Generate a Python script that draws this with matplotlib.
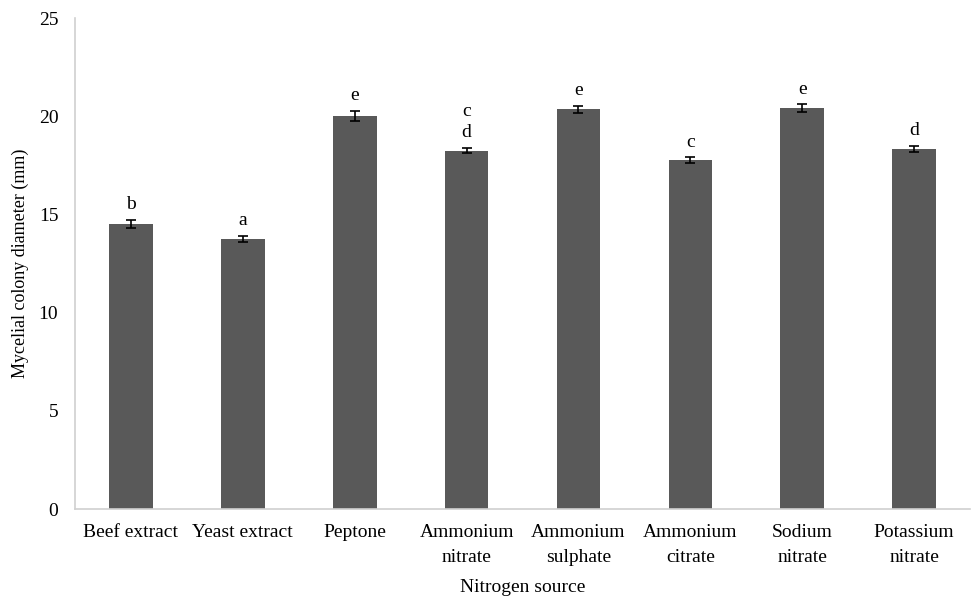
import matplotlib.pyplot as plt
import numpy as np

sources = ['Beef extract', 'Yeast extract', 'Peptone', 'Ammonium\nnitrate',
           'Ammonium\nsulphate', 'Ammonium\ncitrate', 'Sodium\nnitrate', 'Potassium\nnitrate']
diameter = [14.5, 13.75, 20.0, 18.25, 20.35, 17.75, 20.4, 18.35]
errors = [0.2, 0.15, 0.25, 0.12, 0.18, 0.15, 0.2, 0.15]
letters = ['b', 'a', 'e', 'c\nd', 'e', 'c', 'e', 'd']

plt.rcParams['font.family'] = ['Liberation Serif', 'DejaVu Serif']

fig = plt.figure(figsize=(9.74, 6.01), dpi=100)
ax = fig.add_axes([0.077, 0.153, 0.919, 0.817])

x = np.arange(len(sources))
ax.bar(x, diameter, width=0.39, color='#595959', zorder=2)
ax.errorbar(x, diameter, yerr=errors, fmt='none', ecolor='black',
            elinewidth=1.2, capsize=3.5, capthick=1.2, zorder=3)

for xi, v, e, lab in zip(x, diameter, errors, letters):
    ax.text(xi, v + e + 0.35, lab, ha='center', va='bottom', fontsize=14,
            linespacing=1.35)

ax.set_xlim(-0.5, len(sources) - 0.5)
ax.set_ylim(0, 25)
ax.set_yticks([0, 5, 10, 15, 20, 25])
ax.set_xticks(x)
ax.set_xticklabels(sources, fontsize=14, linespacing=1.6)
ax.tick_params(axis='both', length=0, labelsize=14)
ax.tick_params(axis='x', pad=11)
ax.tick_params(axis='y', pad=12)

for s in ['top', 'right']:
    ax.spines[s].set_visible(False)
for s in ['left', 'bottom']:
    ax.spines[s].set_color('#d0d0d0')
    ax.spines[s].set_linewidth(1.2)

ax.set_xlabel('Nitrogen source', fontsize=14, labelpad=9)
ax.set_ylabel('Mycelial colony diameter (mm)', fontsize=13, labelpad=7)

fig.savefig('out.png', dpi=100)
